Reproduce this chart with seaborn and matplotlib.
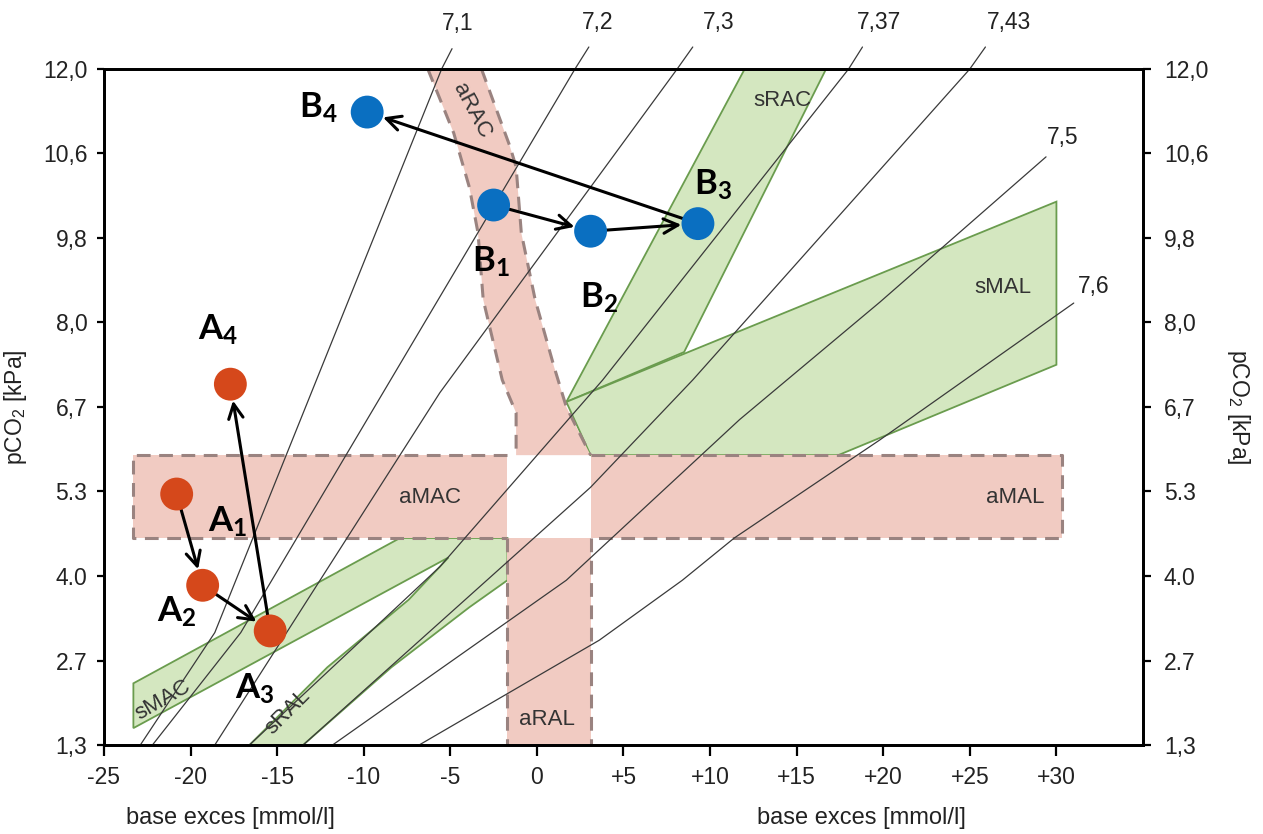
import numpy as np
import pandas as pd
import seaborn as sns
import matplotlib.pyplot as plt

# x: base excess [mmol/l]; y: pCO2 on an even 10..90 grid, labelled in kPa
be_ticks = [-25, -20, -15, -10, -5, 0, 5, 10, 15, 20, 25, 30]
be_tick_labels = ['-25', '-20', '-15', '-10', '-5', '0', '+5', '+10', '+15', '+20', '+25', '+30']
pco2_ticks = [10, 20, 30, 40, 50, 60, 70, 80, 90]
pco2_tick_labels = ['1,3', '2.7', '4.0', '5.3', '6,7', '8,0', '9,8', '10,6', '12,0']

# patient course A and B
point_names = ['A1', 'A2', 'A3', 'A4', 'B1', 'B2', 'B3', 'B4']
point_be = [-20.8, -19.3, -15.4, -17.7, -2.5, 3.1, 9.3, -9.8]
point_pco2 = [39.7, 28.9, 23.5, 52.7, 73.9, 70.8, 71.7, 84.9]
point_group = ['A', 'A', 'A', 'A', 'B', 'B', 'B', 'B']
arrow_pairs = [('A1', 'A2'), ('A2', 'A3'), ('A3', 'A4'),
               ('B1', 'B2'), ('B2', 'B3'), ('B3', 'B4')]

# pH isobars (bottom to top)
ph_labels = ['7,1', '7,2', '7,3', '7,37', '7,43', '7,5', '7,6']
isobar_be = [
    [-22.9, -18.6, -5.5, -4.9],
    [-22.2, -17.1, 2.2, 3.0],
    [-18.6, -5.6, 8.1, 9.0],
    [-16.6, -5.6, 3.8, 18.0, 18.8],
    [-13.5, 3.1, 9.0, 25.0, 25.9],
    [-11.8, 1.7, 11.7, 19.8, 29.4],
    [-6.8, 3.6, 8.4, 11.4, 19.8, 31.0],
]
isobar_pco2 = [
    [10.0, 23.3, 90.0, 92.4],
    [10.0, 23.3, 90.0, 92.6],
    [10.0, 51.7, 90.0, 92.6],
    [10.0, 31.1, 53.2, 90.0, 92.6],
    [10.0, 40.5, 53.2, 90.0, 92.6],
    [10.0, 29.5, 48.5, 62.4, 79.6],
    [10.0, 22.4, 29.5, 34.5, 46.1, 62.3],
]

# acute zones (pink)
amac_be = [-23.3, -1.7]
amal_be = [3.1, 30.3]
ametab_pco2 = [34.5, 44.3]
aral_be = [-1.7, 3.1]
aral_pco2 = [10.0, 34.5]
arac_left_be = [-6.3, -4.8, -3.9, -3.4, -3.1, -2.0, -1.2, -1.2]
arac_left_pco2 = [90.0, 82.4, 76.0, 70.6, 62.7, 53.2, 49.3, 44.3]
arac_right_be = [-3.2, -1.55, -1.2, -0.9, -0.1, 1.0, 1.7, 3.1]
arac_right_pco2 = [90.0, 80.8, 78.4, 70.6, 62.7, 54.7, 50.0, 44.3]

# compensated zones (green)
srac_be = [12.0, 16.7, 8.5, 1.7]
srac_pco2 = [90.0, 90.0, 56.5, 50.6]
smal_be = [1.7, 30.0, 30.0, 17.4, 3.1]
smal_pco2 = [50.6, 74.3, 55.0, 44.3, 44.3]
smac_sral_be = [-23.3, -23.3, -7.9, -1.7, -1.7, -3.9, -8.4, -13.5, -16.6, -12.1, -7.4, -5.1]
smac_sral_pco2 = [12.0, 17.3, 34.5, 34.5, 29.5, 26.3, 19.2, 10.0, 10.0, 19.2, 27.2, 32.2]

sns.set_theme(style='white')
plt.rcParams['font.family'] = ['Liberation Sans', 'DejaVu Sans']
plt.rcParams['mathtext.default'] = 'regular'

fig, ax = plt.subplots(figsize=(12.63, 8.34), dpi=100)
fig.subplots_adjust(left=0.0823, right=0.905, bottom=0.1067, top=0.9173)

green_fill, green_edge = '#d4e7c0', '#6a9c4e'
pink_fill, pink_edge = '#f1cbc2', '#9a8380'

for bx, py in [(srac_be, srac_pco2), (smal_be, smal_pco2), (smac_sral_be, smac_sral_pco2)]:
    ax.fill(bx, py, facecolor=green_fill, edgecolor=green_edge, lw=1.3, zorder=1)

# pink fills
y0, y1 = ametab_pco2
for x0, x1 in [amac_be, amal_be]:
    ax.fill([x0, x1, x1, x0], [y0, y0, y1, y1], color=pink_fill, lw=0, zorder=1.5)
ax.fill([aral_be[0], aral_be[1], aral_be[1], aral_be[0]],
        [aral_pco2[0], aral_pco2[0], aral_pco2[1], aral_pco2[1]], color=pink_fill, lw=0, zorder=1.5)
ax.fill(arac_left_be + arac_right_be[::-1], arac_left_pco2 + arac_right_pco2[::-1],
        color=pink_fill, lw=0, zorder=1.5)

# dashed outlines of the acute zones
dash = dict(color=pink_edge, lw=2.2, ls=(0, (4.5, 2.8)), zorder=2)
ax.plot([amac_be[1], amac_be[0], amac_be[0], amac_be[1]], [y1, y1, y0, y0], **dash)
ax.plot([amal_be[0], amal_be[1], amal_be[1], amal_be[0]], [y1, y1, y0, y0], **dash)
ax.plot([aral_be[0], aral_be[0]], aral_pco2[::-1], **dash)
ax.plot([aral_be[1], aral_be[1]], aral_pco2[::-1], **dash)
ax.plot(arac_left_be, arac_left_pco2, **dash)
ax.plot(arac_right_be, arac_right_pco2, **dash)

# isobars
rows = []
for ph, bx, py in zip(ph_labels, isobar_be, isobar_pco2):
    for b, p in zip(bx, py):
        rows.append({'ph': ph, 'be': b, 'pco2': p})
iso = pd.DataFrame(rows)
n_before = len(ax.lines)
sns.lineplot(data=iso, x='be', y='pco2', units='ph', estimator=None, sort=False,
             color='#3a3a3a', lw=0.9, legend=False, ax=ax, zorder=3)
for ln in ax.lines[n_before:]:
    ln.set_clip_on(False)

iso_label_offsets = [(4, 18), (6, 18), (19, 18), (12, 18), (17, 18), (12, 14), (14, 12)]
for ph, bx, py, off in zip(ph_labels, isobar_be, isobar_pco2, iso_label_offsets):
    ax.annotate(ph, (bx[-1], py[-1]), xytext=off, textcoords='offset points',
                ha='center', va='center', fontsize=16.5, color='#222222', annotation_clip=False)

# zone names
zone_text = dict(fontsize=16, color='#333333', ha='center', va='center', zorder=2.6)
ax.text(-6.2, 39.3, 'aMAC', **zone_text)
ax.text(27.6, 39.3, 'aMAL', **zone_text)
ax.text(0.6, 13.0, 'aRAL', **zone_text)
ax.text(-3.75, 85.1, 'aRAC', rotation=-62, **zone_text)
ax.text(14.2, 86.3, 'sRAC', **zone_text)
ax.text(26.9, 64.1, 'sMAL', **zone_text)
ax.text(-21.6, 15.3, 'sMAC', rotation=30, **zone_text)
ax.text(-14.4, 13.9, 'sRAL', rotation=45, **zone_text)

# patient points and arrows
pts = pd.DataFrame({'name': point_names, 'be': point_be, 'pco2': point_pco2, 'group': point_group})
pos = {n: (b, p) for n, b, p in zip(point_names, point_be, point_pco2)}
for a, b in arrow_pairs:
    ax.annotate('', xy=pos[b], xytext=pos[a],
                arrowprops=dict(arrowstyle='->', color='black', lw=2.2, shrinkA=0, shrinkB=12,
                                mutation_scale=26), zorder=4)
sns.scatterplot(data=pts, x='be', y='pco2', hue='group', palette={'A': '#d5481b', 'B': '#0a6fc1'},
                s=560, linewidth=0, legend=False, ax=ax, zorder=5)

label_offsets = {'A1': (37, -20), 'A2': (-19, -19), 'A3': (-11, -42), 'A4': (-9, 39),
                 'B1': (-2, -41), 'B2': (6, -48), 'B3': (11, 28), 'B4': (-35, 3)}
for n in point_names:
    ax.annotate(f'{n[0]}$_{n[1]}$', pos[n], xytext=label_offsets[n], textcoords='offset points',
                ha='center', va='center', fontsize=25, fontfamily='Lato', fontweight='bold',
                color='black', zorder=6)

# axes
ax.set_xlim(-25, 35)
ax.set_ylim(10, 90)
ax.set_xticks(be_ticks)
ax.set_xticklabels(be_tick_labels)
ax.set_yticks(pco2_ticks)
ax.set_yticklabels(pco2_tick_labels)
ax.set_xlabel('')
ax.set_ylabel('pCO$_2$ [kPa]', fontsize=16.5, labelpad=10, color='#222222')
ax.tick_params(axis='x', bottom=True, direction='out', length=8, width=1.6, color='black',
               labelsize=16.5, pad=7, labelcolor='#222222')
ax.tick_params(axis='y', left=True, direction='out', length=5, width=1.6, color='black',
               labelsize=16.5, pad=7, labelcolor='#222222')
for s in ax.spines.values():
    s.set_visible(True)
    s.set_color('black')
    s.set_linewidth(2)
ax.grid(False)

ax2 = ax.twinx()
ax2.set_ylim(10, 90)
ax2.set_yticks(pco2_ticks)
ax2.set_yticklabels(pco2_tick_labels)
ax2.tick_params(axis='y', right=True, direction='out', length=6, width=1.6, color='black',
                labelsize=16.5, pad=9, labelcolor='#222222')
ax2.set_ylabel('pCO$_2$ [kPa]', rotation=270, va='bottom', fontsize=16.5, labelpad=12, color='#222222')
for s in ax2.spines.values():
    s.set_linewidth(2)
    s.set_color('black')
ax2.grid(False)

for xf in (0.122, 0.7286):
    ax.text(xf, -0.108, 'base exces [mmol/l]', transform=ax.transAxes, ha='center', va='center',
            fontsize=17, color='#222222')

fig.savefig('out.png', dpi=100)
